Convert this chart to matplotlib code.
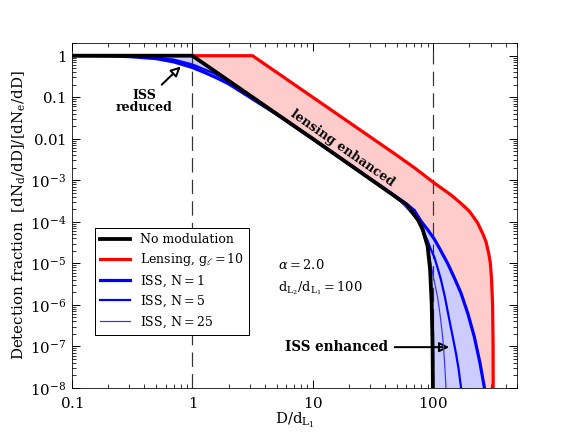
import matplotlib

matplotlib.use("Agg")
import matplotlib.pyplot as plt

plt.rcParams["font.family"] = ["DejaVu Serif"]
plt.rcParams["mathtext.fontset"] = "dejavuserif"

# --- data (x = D/d_L1, y = detection fraction) ---
black_x = [0.1, 1.0, 10.0, 47.7, 60.0, 66.0, 75.0, 82.0, 90.0, 94.4, 97.3, 99.0, 99.6, 100.0]
black_y = [1.0, 1.0, 1.0e-2, 4.2e-4, 2.6e-4, 1.8e-4, 1.1e-4, 6.5e-5, 2.6e-5, 7.0e-6, 1.1e-6, 1.0e-7, 1.0e-8, 1.0e-9]

red_x = [1.0, 3.16, 50.0, 70.0, 100.0, 140.0, 170.0, 200.0, 234.0, 260.0, 275.0, 290.0, 299.0, 306.0, 312.0, 315.0, 316.0]
red_y = [1.0, 1.0, 4.0e-3, 2.0e-3, 9.0e-4, 4.5e-4, 2.8e-4, 1.8e-4, 9.5e-5, 5.0e-5, 3.3e-5, 1.7e-5, 1.0e-5, 4.0e-6, 1.0e-6, 1.0e-7, 1.0e-9]

iss1_x = [0.1, 0.2, 0.3, 0.5, 0.7, 1.0, 1.3, 1.6, 2.0, 3.0, 5.0, 10.0, 47.7, 60.0, 70.0, 80.0, 90.0,
          102.5, 115.0, 132.0, 150.0, 170.7, 195.0, 220.0, 245.0, 267.0, 280.0]
iss1_y = [1.0, 0.985, 0.95, 0.85, 0.71, 0.52, 0.38, 0.29, 0.21, 0.1, 0.039, 9.9e-3, 4.3e-4, 2.7e-4, 1.85e-4,
          1.0e-4, 6.5e-5, 3.8e-5, 2.1e-5, 1.0e-5, 4.5e-6, 1.9e-6, 6.0e-7, 1.7e-7, 4.0e-8, 1.0e-8, 1.0e-9]

iss5_x = [0.1, 0.3, 0.5, 0.7, 1.0, 1.5, 2.0, 3.0, 5.0, 10.0, 47.7, 70.0, 85.0, 90.0, 95.0, 102.5,
          110.0, 116.5, 125.0, 136.5, 145.0, 155.0, 163.0, 170.7, 175.0]
iss5_y = [1.0, 0.97, 0.9, 0.79, 0.6, 0.38, 0.24, 0.108, 0.04, 0.01, 4.3e-4, 1.9e-4, 5.0e-5, 3.5e-5, 2.3e-5,
          1.4e-5, 7.0e-6, 3.9e-6, 1.6e-6, 4.3e-7, 1.8e-7, 6.7e-8, 2.8e-8, 1.0e-8, 1.0e-9]

iss25_x = [0.1, 0.3, 0.5, 0.7, 1.0, 1.5, 2.0, 3.0, 10.0, 47.7, 75.0, 90.0, 95.0, 100.0, 105.0,
           109.0, 115.0, 120.0, 124.0, 128.0, 130.0]
iss25_y = [1.0, 0.98, 0.93, 0.83, 0.64, 0.39, 0.245, 0.109, 0.01, 4.3e-4, 1.1e-4, 2.6e-5, 1.2e-5, 5.0e-6, 2.6e-6,
           1.5e-6, 5.0e-7, 1.7e-7, 5.0e-8, 1.0e-8, 1.0e-9]

xtick_vals = [0.1, 1, 10, 100]
xtick_labels = ["$0.1$", "$1$", "$10$", "$100$"]
ytick_vals = [1, 0.1, 0.01, 1e-3, 1e-4, 1e-5, 1e-6, 1e-7, 1e-8]
ytick_labels = ["$1$", "$0.1$", "$0.01$", "$10^{-3}$", "$10^{-4}$", "$10^{-5}$",
                "$10^{-6}$", "$10^{-7}$", "$10^{-8}$"]

fig, ax = plt.subplots(figsize=(8, 6), dpi=72)
fig.subplots_adjust(left=0.125, right=0.898, bottom=0.102, top=0.9)
ax.set_xscale("log")
ax.set_yscale("log")

# shaded regions: lensing (red) and ISS (blue) relative to no modulation
blk_from1 = [(x, y) for x, y in zip(black_x, black_y) if x >= 1.0]
ax.fill(red_x + [p[0] for p in blk_from1][::-1],
        red_y + [p[1] for p in blk_from1][::-1],
        color="#ffcccc", lw=0, zorder=1)
ax.fill(iss1_x + black_x[::-1], iss1_y + black_y[::-1],
        color="#ccccff", lw=0, zorder=2)

ax.axvline(1, color="0.2", lw=1.2, dashes=(12, 6), zorder=3)
ax.axvline(100, color="0.2", lw=1.2, dashes=(12, 6), zorder=3)

ax.plot(iss25_x, iss25_y, color="#3333ff", lw=1.2, label=r"ISS, $\mathrm{N}=25$", zorder=4)
ax.plot(iss5_x, iss5_y, color="#0000ff", lw=2.2, label=r"ISS, $\mathrm{N}=5$", zorder=4)
ax.plot(iss1_x, iss1_y, color="#0000ff", lw=3.2, label=r"ISS, $\mathrm{N}=1$", zorder=4)
ax.plot(red_x, red_y, color="#ff0000", lw=3.2, label=r"Lensing, $\mathrm{g}_\ell=10$", zorder=5)
ax.plot(black_x, black_y, color="black", lw=3.8, label="No modulation", zorder=6)

ax.set_xlim(0.1, 500)
ax.set_ylim(1e-8, 2)
ax.set_xticks(xtick_vals)
ax.set_xticklabels(xtick_labels)
ax.set_yticks(ytick_vals)
ax.set_yticklabels(ytick_labels)
ax.tick_params(which="both", direction="in", top=True, right=True, labelsize=15)
ax.tick_params(which="major", length=8, width=1)
ax.tick_params(which="minor", length=4, width=0.8)
ax.tick_params(axis="x", pad=8)
ax.tick_params(axis="y", pad=6)

ax.set_xlabel(r"$\mathrm{D/d_{L_1}}$", fontsize=15, labelpad=0)
ax.set_ylabel(r"Detection fraction  $[\mathrm{dN_d/dD}]/[\mathrm{dN_e/dD}]$", fontsize=15,
              labelpad=2)

handles, labels = ax.get_legend_handles_labels()
order = [4, 3, 2, 1, 0]
ax.legend([handles[i] for i in order], [labels[i] for i in order],
          loc="lower left", bbox_to_anchor=(0.052, 0.155), borderaxespad=0,
          fancybox=False, edgecolor="black", fontsize=12.5, handlelength=2.4,
          framealpha=1, labelspacing=0.4)

ax.text(0.463, 0.357, r"$\alpha = 2.0$", transform=ax.transAxes, fontsize=13, va="center")
ax.text(0.463, 0.29, r"$\mathrm{d_{L_2}/d_{L_1}} = 100$", transform=ax.transAxes,
        fontsize=13, va="center")

ax.annotate("ISS\nreduced", xy=(0.8, 0.55), xytext=(0.40, 0.08), ha="center", va="center",
            fontsize=12.5, fontweight="bold", linespacing=0.9,
            arrowprops=dict(arrowstyle="-|>", fc="white", ec="black", lw=2,
                            mutation_scale=20, shrinkA=3, shrinkB=0))
ax.text(17.7, 5.8e-3, "lensing enhanced", rotation=-35, ha="center", va="center",
        fontsize=12.5, fontweight="bold", rotation_mode="anchor")
ax.annotate("ISS enhanced", xy=(136, 9.6e-8), xytext=(42, 9.6e-8), ha="right", va="center",
            fontsize=13.5, fontweight="bold",
            arrowprops=dict(arrowstyle="-|>", fc="none", ec="black", lw=2,
                            mutation_scale=20, shrinkA=5, shrinkB=0))

fig.savefig("out.png", dpi=72)
